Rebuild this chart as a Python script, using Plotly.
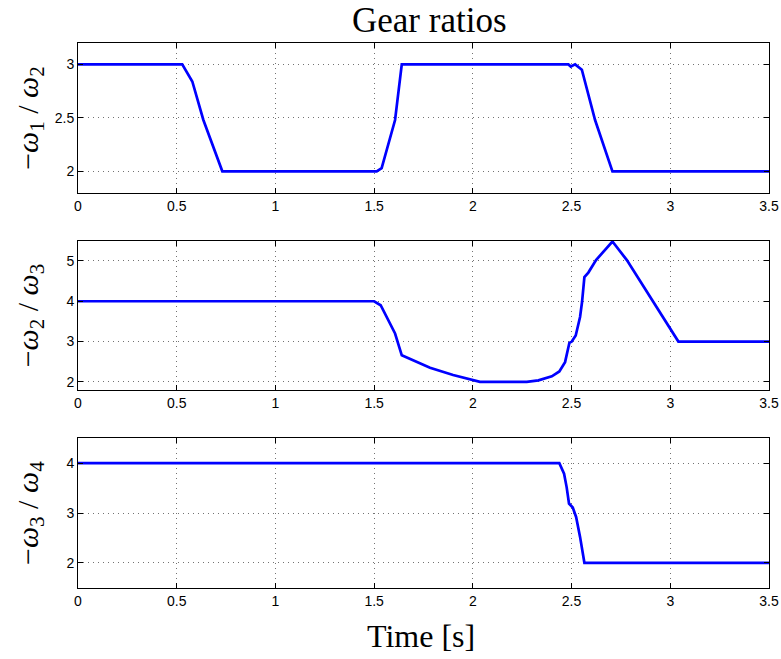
import plotly.graph_objects as go

# ---- data ----
t1 = [0.0, 0.528, 0.579, 0.635, 0.731, 1.513, 1.538, 1.606, 1.640, 2.484, 2.496, 2.518, 2.552, 2.619, 2.707, 3.5]
r12 = [3.0, 3.0, 2.84, 2.48, 2.0, 2.0, 2.03, 2.48, 3.0, 3.0, 2.98, 3.0, 2.95, 2.48, 2.0, 2.0]

t2 = [0.0, 1.500, 1.533, 1.606, 1.640, 1.733, 1.783, 1.900, 2.003, 2.036, 2.273, 2.332, 2.400, 2.438, 2.467,
      2.489, 2.501, 2.521, 2.543, 2.553, 2.565, 2.585, 2.624, 2.661, 2.707, 2.780, 3.041, 3.5]
r23 = [4.0, 4.0, 3.9, 3.2, 2.66, 2.47, 2.35, 2.17, 2.03, 2.0, 2.0, 2.04, 2.14, 2.26, 2.49,
       2.97, 3.0, 3.15, 3.61, 3.98, 4.6, 4.71, 5.02, 5.23, 5.48, 5.02, 3.0, 3.0]

t3 = [0.0, 2.438, 2.462, 2.475, 2.487, 2.506, 2.523, 2.543, 2.565, 3.030, 3.040, 3.050, 3.5]
r34 = [4.0, 4.0, 3.79, 3.52, 3.19, 3.11, 2.92, 2.52, 2.0, 2.0, 2.01, 2.0, 2.0]

x_ticks = [0, 0.5, 1, 1.5, 2, 2.5, 3, 3.5]
x_ticklabels = ["0", "0.5", "1", "1.5", "2", "2.5", "3", "3.5"]
y1_ticks = [2, 2.5, 3]
y1_ticklabels = ["2", "2.5", "3"]
y2_ticks = [2, 3, 4, 5]
y3_ticks = [2, 3, 4]

title_text = "Gear ratios"
xlabel_text = "Time [s]"
ylabels = ["−<i>ω</i><sub>1</sub> / <i>ω</i><sub>2</sub>",
           "−<i>ω</i><sub>2</sub> / <i>ω</i><sub>3</sub>",
           "−<i>ω</i><sub>3</sub> / <i>ω</i><sub>4</sub>"]

# ---- layout geometry ----
W, H = 781, 659
x_dom = [78 / W, 769 / W]
y_doms = [[1 - 192.7 / H, 1 - 43 / H],
          [1 - 390 / H, 1 - 240.7 / H],
          [1 - 587.7 / H, 1 - 438.3 / H]]
y_ranges = [[1.8, 3.2], [1.8, 5.5], [1.5, 4.5]]
y_tickvals = [y1_ticks, y2_ticks, y3_ticks]
y_ticktexts = [y1_ticklabels, [str(v) for v in y2_ticks], [str(v) for v in y3_ticks]]
series = [(t1, r12), (t2, r23), (t3, r34)]

fig = go.Figure()
tick_font = dict(family="Liberation Sans, Arial, sans-serif", size=14, color="black")
serif = "Liberation Serif, DejaVu Serif, serif"

for i, (tx, ty) in enumerate(series):
    xa = "x" if i == 0 else f"x{i+1}"
    ya = "y" if i == 0 else f"y{i+1}"
    fig.add_trace(go.Scatter(x=tx, y=ty, mode="lines", xaxis=xa, yaxis=ya,
                             line=dict(color="#0000FF", width=2.7), showlegend=False))
    axis_common = dict(showline=True, linecolor="black", linewidth=1, mirror="ticks",
                       ticks="inside", ticklen=5, tickcolor="black", tickwidth=1,
                       showgrid=True, gridcolor="rgba(0,0,0,0.55)", griddash="1px,4px", gridwidth=1,
                       zeroline=False, tickfont=tick_font, automargin=False)
    fig.layout[("xaxis" if i == 0 else f"xaxis{i+1}")] = dict(
        domain=x_dom, range=[0, 3.5], anchor=ya, tickvals=x_ticks, ticktext=x_ticklabels,
        **axis_common)
    fig.layout[("yaxis" if i == 0 else f"yaxis{i+1}")] = dict(
        domain=y_doms[i], range=y_ranges[i], anchor=xa, tickvals=y_tickvals[i],
        ticktext=y_ticktexts[i], **axis_common)
    fig.add_annotation(text=ylabels[i], xref="paper", yref="paper", x=30 / W,
                       y=(y_doms[i][0] + y_doms[i][1]) / 2, textangle=-90, showarrow=False,
                       font=dict(family=serif, size=30, color="black"),
                       xanchor="center", yanchor="middle")

fig.add_annotation(text=title_text, xref="paper", yref="paper", x=430 / W,
                   y=1 - 21 / H, showarrow=False, font=dict(family=serif, size=35, color="black"),
                   xanchor="center", yanchor="middle")
fig.add_annotation(text=xlabel_text, xref="paper", yref="paper", x=421 / W,
                   y=1 - 636 / H, showarrow=False, font=dict(family=serif, size=32, color="black"),
                   xanchor="center", yanchor="middle")

fig.update_layout(width=W, height=H, autosize=False,
                  margin=dict(l=0, r=0, t=0, b=0, pad=0, autoexpand=False),
                  paper_bgcolor="white", plot_bgcolor="white")
fig.write_html("out.html", config={"responsive": False})
